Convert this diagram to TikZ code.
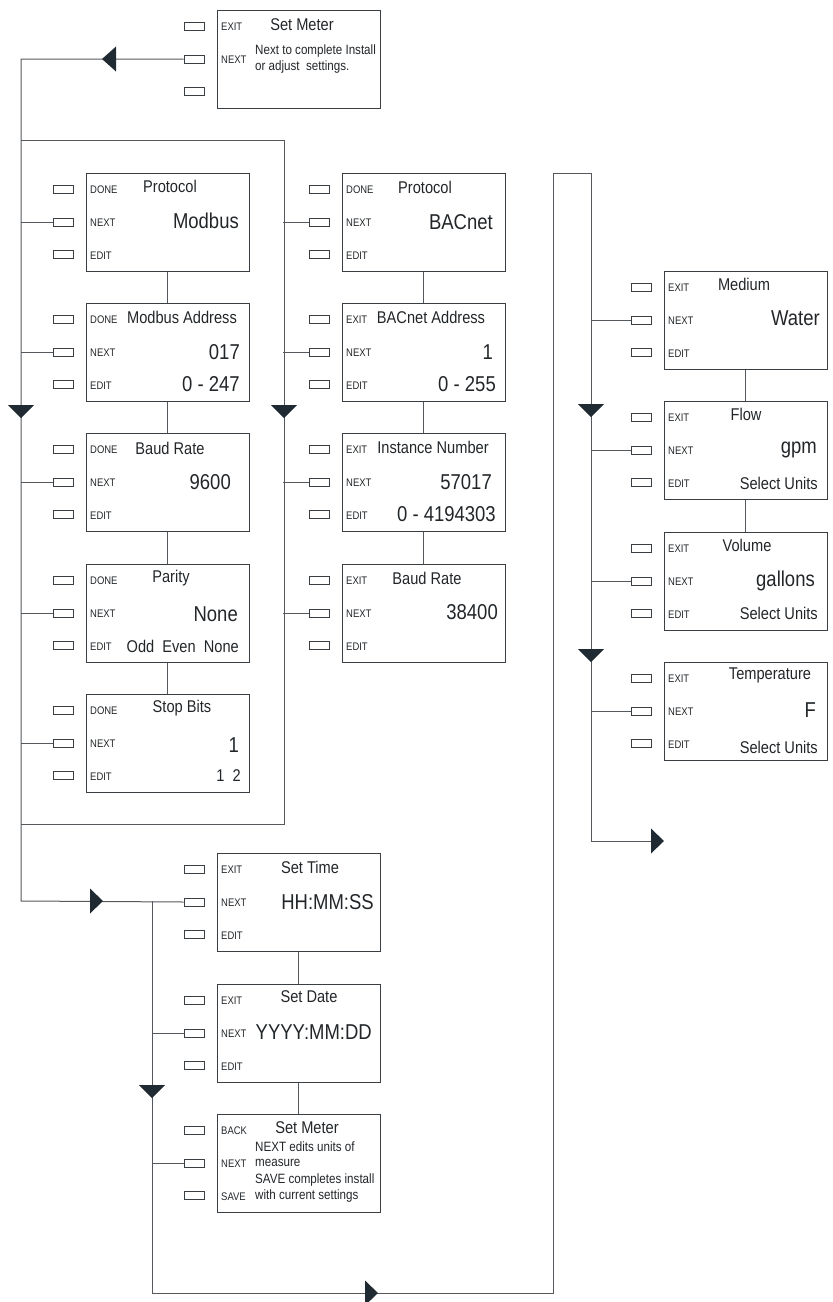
\documentclass[tikz,border=0pt]{standalone}
\usepackage{fontspec}
\setmainfont{Liberation Sans}[FakeStretch=0.86]
\usetikzlibrary{calc}
\definecolor{boxc}{HTML}{3A3F44}
\definecolor{linec}{HTML}{55595D}
\definecolor{arrc}{HTML}{1F2A33}
\definecolor{txt}{HTML}{222629}
\tikzset{
  scr/.style={draw=boxc, line width=0.9pt, minimum width=163pt, minimum height=98pt, inner sep=0pt, anchor=north west},
  btn/.style={draw=boxc, line width=0.7pt, minimum width=20pt, minimum height=8pt, inner sep=0pt},
  lab/.style={anchor=west, inner sep=0pt, text=txt, font=\fontsize{11}{12}\selectfont},
  ttl/.style={inner sep=0pt, text=txt, font=\fontsize{17}{20}\selectfont},
  val/.style={anchor=east, inner sep=0pt, text=txt, font=\fontsize{21.5}{24}\selectfont},
  small/.style={anchor=east, inner sep=0pt, text=txt, font=\fontsize{17}{20}\selectfont},
  note/.style={anchor=west, inner sep=0pt, text=txt, font=\fontsize{13.5}{15}\selectfont},
  wire/.style={draw=linec, line width=1pt},
  arr/.style={fill=arrc, draw=none}
}
% screen: name, left x, top y, three labels
\newcommand\screen[6]{%
  \node[scr] (#1) at (#2,#3) {};
  \node[btn] (#1b1) at ($(#1.north west)+(-23,16)$) {};
  \node[btn] (#1b2) at ($(#1.north west)+(-23,49)$) {};
  \node[btn] (#1b3) at ($(#1.north west)+(-23,81)$) {};
  \node[lab] (#1l1) at ($(#1.north west)+(4,17)$) {#4};
  \node[lab] (#1l2) at ($(#1.north west)+(4,50)$) {#5};
  \node[lab] (#1l3) at ($(#1.north west)+(4,83)$) {#6};
}
\newcommand\downarr[2]{\fill[arr] (#1-13,#2-13) -- (#1+13,#2-13) -- (#1,#2) -- cycle;}
\newcommand\rightarr[2]{\fill[arr] (#1-13,#2-12.5) -- (#1-13,#2+12.5) -- (#1,#2) -- cycle;}
\newcommand\leftarr[2]{\fill[arr] (#1+14,#2-12.5) -- (#1+14,#2+12.5) -- (#1,#2) -- cycle;}
\begin{document}
\begin{tikzpicture}[x=1pt,y=-1pt]
\useasboundingbox (0,0) rectangle (833,1302);
% ---------- screens ----------
\screen{sm}{217}{10}{EXIT}{NEXT}{}
\screen{ma}{86}{173}{DONE}{NEXT}{EDIT}
\screen{mb}{86}{303}{DONE}{NEXT}{EDIT}
\screen{mc}{86}{433}{DONE}{NEXT}{EDIT}
\screen{md}{86}{564}{DONE}{NEXT}{EDIT}
\screen{me}{86}{694}{DONE}{NEXT}{EDIT}
\screen{ba}{342}{173}{DONE}{NEXT}{EDIT}
\screen{bb}{342}{303}{EXIT}{NEXT}{EDIT}
\screen{bc}{342}{433}{EXIT}{NEXT}{EDIT}
\screen{bd}{342}{564}{EXIT}{NEXT}{EDIT}
\screen{ta}{217}{853}{EXIT}{NEXT}{EDIT}
\screen{tb}{217}{984}{EXIT}{NEXT}{EDIT}
\screen{tc}{217}{1114}{BACK}{NEXT}{SAVE}
\screen{ra}{664}{271}{EXIT}{NEXT}{EDIT}
\screen{rb}{664}{401}{EXIT}{NEXT}{EDIT}
\screen{rc}{664}{532}{EXIT}{NEXT}{EDIT}
\screen{rd}{664}{662}{EXIT}{NEXT}{EDIT}
% ---------- texts ----------
\node[ttl] (smt) at (302,25) {Set Meter};
\node[note] (smn1) at (255,51) {Next to complete Install};
\node[note] (smn2) at (255,67) {or adjust\ \ settings.};
\node[ttl] (mat) at (170,186) {Protocol};
\node[val] (mav) at (239,221) {Modbus};
\node[ttl] (mbt) at (182,317) {Modbus Address};
\node[val] (mbv) at (240,352) {017};
\node[val] (mbr) at (240,384) {0 - 247};
\node[ttl] (mct) at (170,448) {Baud Rate};
\node[val] (mcv) at (231,482) {9600};
\node[ttl] (mdt) at (171,578) {Parity};
\node[val] (mdv) at (238,614) {None};
\node[small] (mdr) at (239,646) {Odd\ \ Even\ \ None};
\node[ttl] (met) at (182,708) {Stop Bits};
\node[val] (mev) at (239,745) {1};
\node[small] (mer) at (241,776) {1\ \ 2};
\node[ttl] (bat) at (425,187) {Protocol};
\node[val] (bav) at (493,222) {BACnet};
\node[ttl] (bbt) at (431,317) {BACnet Address};
\node[val] (bbv) at (493,352) {1};
\node[val] (bbr) at (496,384) {0 - 255};
\node[ttl] (bct) at (433,447) {Instance Number};
\node[val] (bcv) at (492,482) {57017};
\node[val] (bcr) at (496,514) {0 - 4194303};
\node[ttl] (bdt) at (427,578) {Baud Rate};
\node[val] (bdv) at (498,612) {38400};
\node[ttl] (tat) at (310,867) {Set Time};
\node[val] (tav) at (374,902) {HH:MM:SS};
\node[ttl] (tbt) at (309,997) {Set Date};
\node[val] (tbv) at (372,1032) {YYYY:MM:DD};
\node[ttl] (tct) at (307,1128) {Set Meter};
\node[note] (tcn1) at (255,1147) {NEXT edits units of};
\node[note] (tcn2) at (255,1163) {measure};
\node[note] (tcn3) at (255,1180) {SAVE completes install};
\node[note] (tcn4) at (255,1196) {with current settings};
\node[ttl] (rat) at (744,284) {Medium};
\node[val] (rav) at (820,318) {Water};
\node[ttl] (rbt) at (746,414) {Flow};
\node[val] (rbv) at (817,450) {gpm};
\node[small] (rbr) at (818,483) {Select Units};
\node[ttl] (rct) at (747,545) {Volume};
\node[val] (rcv) at (815,581) {gallons};
\node[small] (rcr) at (818,613) {Select Units};
\node[ttl] (rdt) at (770,675) {Temperature};
\node[val] (rdv) at (816,710) {F};
\node[small] (rdr) at (818,747) {Select Units};
% ---------- vertical links between screens ----------
\draw[wire] (ma.south) -- (mb.north) (mb.south) -- (mc.north) (mc.south) -- (md.north) (md.south) -- (me.north);
\draw[wire] (ba.south) -- (bb.north) (bb.south) -- (bc.north) (bc.south) -- (bd.north);
\draw[wire] (ta.south) -- (tb.north) (tb.south) -- (tc.north);
\draw[wire] (ra.south) -- (rb.north) (rb.south) -- (rc.north);
% ---------- main flow ----------
\coordinate (c1) at (21,59);
\coordinate (c2) at (21,901);
\coordinate (c3) at (152,901);
\coordinate (c4) at (152,1293);
\coordinate (c5) at (553,1293);
\coordinate (c6) at (553,173);
\coordinate (c7) at (591,173);
\coordinate (c8) at (591,841);
\coordinate (c9) at (663,841);
\draw[wire] (smb2.west) -- (c1) -- (c2) -- (tab2.west);
\draw[wire] (c3) -- (c4) -- (c5) -- (c6) -- (c7) -- (c8) -- (c9);
% frame round the protocol choice
\draw[wire] (21,140) -- (284,140) -- (284,824) -- (21,824);
% branches to NEXT keys
\foreach \n in {ma,mb,mc,md,me}{\draw[wire] (\n b2.west) -- (\n b2.west -| c1);}
\foreach \n in {ba,bb,bc,bd}{\draw[wire] (\n b2.west) -- ++(-26,0);}
\foreach \n in {tb,tc}{\draw[wire] (\n b2.west) -- (\n b2.west -| c3);}
\foreach \n in {ra,rb,rc,rd}{\draw[wire] (\n b2.west) -- (\n b2.west -| c7);}
% ---------- arrowheads ----------
\leftarr{102}{59}
\downarr{21}{418}
\downarr{284}{418}
\rightarr{103}{901}
\downarr{152}{1098}
\rightarr{378}{1293}
\downarr{591}{417}
\downarr{591}{662}
\rightarr{664}{841}
\end{tikzpicture}
\end{document}
